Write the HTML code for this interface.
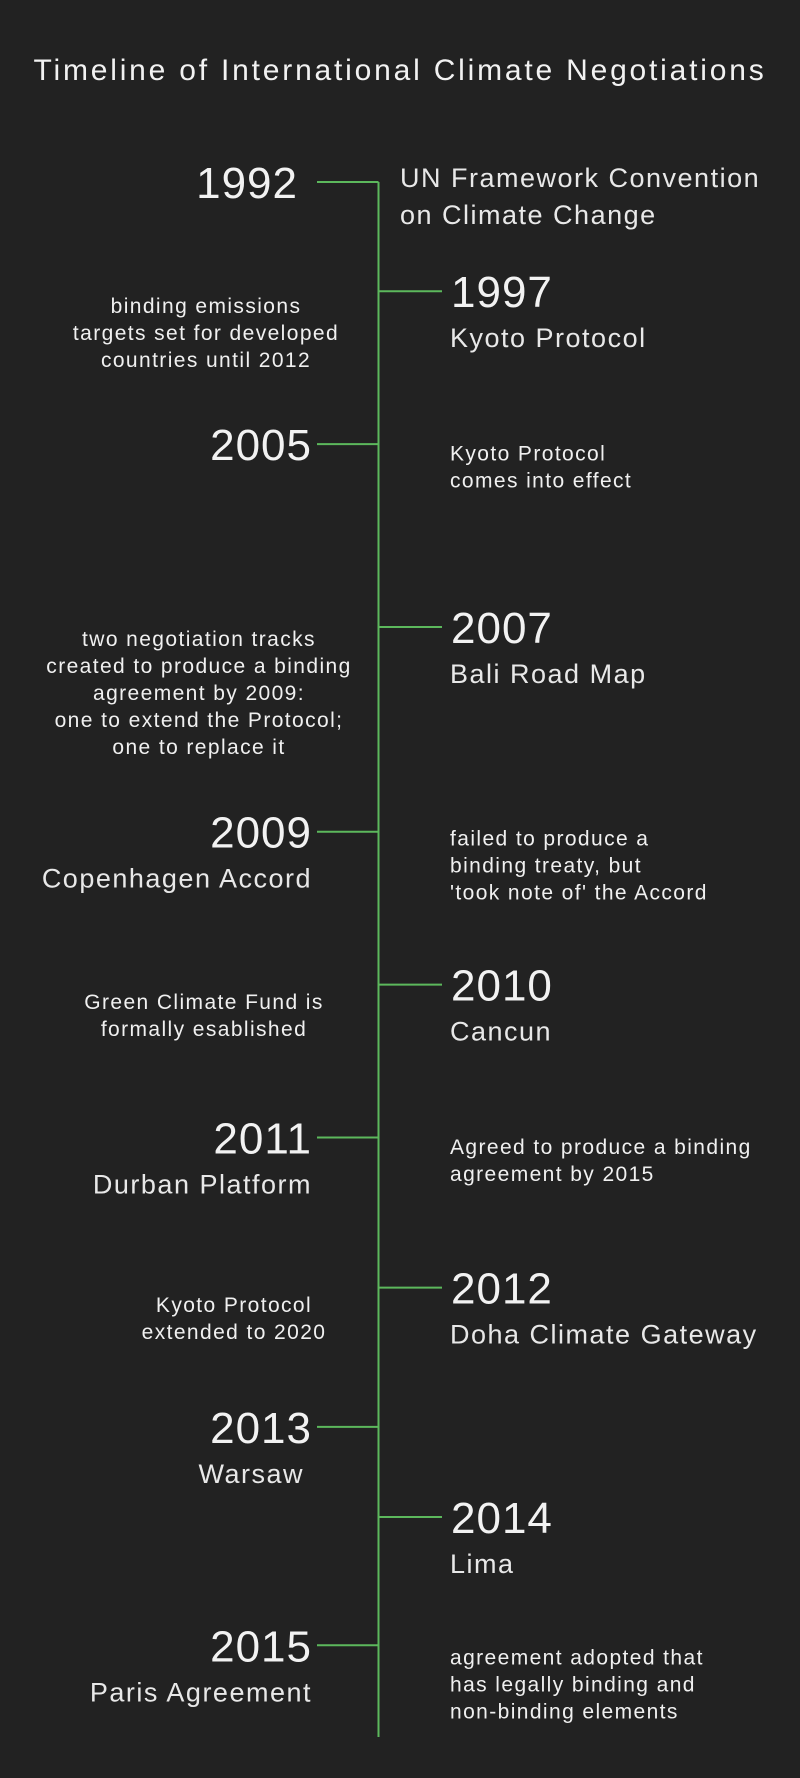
<!DOCTYPE html>
<html><head><meta charset="utf-8"><style>
html,body{margin:0;padding:0;background:#222222;}
svg{display:block;font-family:"Liberation Sans",sans-serif;}
</style></head><body>
<svg id="chart" width="800" height="1778" viewBox="0 0 800 1778">
<rect width="800" height="1778" fill="#222222"/>
<text x="400" y="80" text-anchor="middle" fill="#f2f2f2" font-size="30" letter-spacing="2.8">Timeline of International Climate Negotiations</text>
</svg>
<script>
const years = ['1992','1997','2005','2007','2009','2010','2011','2012','2013','2014','2015'];
const sides = ['left','right','left','right','left','right','left','right','left','right','left'];
const rows = [0, 4, 9.6, 16.3, 23.8, 29.4, 35, 40.5, 45.6, 48.9, 53.6];
const titles = [['UN Framework Convention','on Climate Change'],['Kyoto Protocol'],[],['Bali Road Map'],['Copenhagen Accord'],['Cancun'],['Durban Platform'],['Doha Climate Gateway'],['Warsaw'],['Lima'],['Paris Agreement']];
const notes = [
 {after:0, lines:['binding emissions','targets set for developed','countries until 2012'], side:'left', row:4.8},
 {after:2, lines:['Kyoto Protocol','comes into effect'], side:'right', row:10.2},
 {after:3, lines:['two negotiation tracks','created to produce a binding','agreement by 2009:','one to extend the Protocol;','one to replace it'], side:'left', row:17},
 {after:4, lines:["failed to produce a","binding treaty, but","'took note of' the Accord"], side:'right', row:24.3},
 {after:5, lines:['Green Climate Fund is','formally esablished'], side:'left', row:30.3},
 {after:6, lines:['Agreed to produce a binding','agreement by 2015'], side:'right', row:35.6},
 {after:7, lines:['Kyoto Protocol','extended to 2020'], side:'left', row:41.4},
 {after:10, lines:['agreement adopted that','has legally binding and','non-binding elements'], side:'right', row:54.3}
];
const noteCenters = [206, null, 199, null, 204, null, 234, null];
const NS='http://www.w3.org/2000/svg';
const svg=document.getElementById('chart');
const spineX=378.5, y0=182, rowH=27.3;
function yScale(r){return y0 + r*rowH;}
function mk(tag, attrs){const e=document.createElementNS(NS,tag);for(const k in attrs)e.setAttribute(k,attrs[k]);svg.appendChild(e);return e;}
const spine=mk('line',{x1:spineX,x2:spineX,y1:yScale(rows[0]),y2:1737,stroke:'#5cb85c','stroke-width':2});


years.forEach((yr,i)=>{
  const y=yScale(rows[i]);
  const left=sides[i]==='left';
  const t=mk('line',{x1:left?317:spineX,x2:left?spineX:442,y1:y,y2:y,stroke:'#5cb85c','stroke-width':2});
  
  
  const isFirst=i===0;
  const yx = left?(isFirst?298:312):451;
  const yt=mk('text',{x:yx,y:y+16,'text-anchor':left?'end':'start',fill:'#f2f2f2','font-size':44,'letter-spacing':1});
  yt.textContent=yr;
  
  
  titles[i].forEach((ln,j)=>{
    let tx, ty, anchor;
    if(isFirst){tx=400;ty=y+5+j*37;anchor='start';}
    else if(left){tx=(yr==='2013')?304:312;ty=y+56;anchor='end';}
    else {tx=450;ty=y+56;anchor='start';}
    const e=mk('text',{x:tx,y:ty,'text-anchor':anchor,fill:'#e8e8e8','font-size':27,'letter-spacing':1.5});
    e.textContent=ln;
    
    
  });
});
notes.forEach((n,k)=>{
  const base=yScale(n.row);
  n.lines.forEach((ln,j)=>{
    const left=n.side==='left';
    const e=mk('text',{x:left?noteCenters[k]:450,y:base+j*27,'text-anchor':left?'middle':'start',fill:'#f0f0f0','font-size':21,'letter-spacing':1.4});
    e.textContent=ln;
    
    
  });
});
</script>
</body></html>
